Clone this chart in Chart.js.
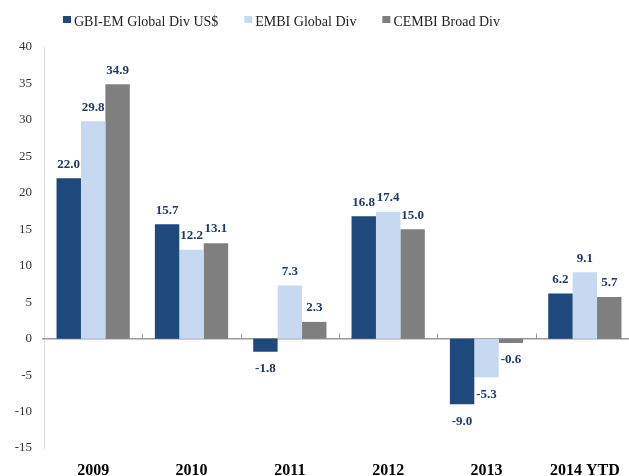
<!DOCTYPE html>
<html>
<head>
<meta charset="utf-8">
<script src="https://cdn.jsdelivr.net/npm/chart.js@4"></script>
<style>
html,body{margin:0;padding:0;background:#fff;overflow:hidden;}
#wrap{width:629px;height:476px;position:relative;overflow:hidden;}
</style>
</head>
<body>
<div id="wrap"><canvas id="c" width="640" height="476"></canvas></div>
<script>
const categories = ['2009', '2010', '2011', '2012', '2013', '2014 YTD'];
const gbiEm = [22.0, 15.7, -1.8, 16.8, -9.0, 6.2];
const embi = [29.8, 12.2, 7.3, 17.4, -5.3, 9.1];
const cembi = [34.9, 13.1, 2.3, 15.0, -0.6, 5.7];
const seriesNames = ['GBI-EM Global Div US$', 'EMBI Global Div', 'CEMBI Broad Div'];
const yMin = -15, yMax = 40, yStep = 5;

const SERIF = '"Liberation Serif", "Times New Roman", serif';
const colors = ['#1F497D', '#C6D9F1', '#7F7F7F'];

const labelPlugin = {
  id: 'valueLabels',
  afterDatasetsDraw(chart) {
    const ctx = chart.ctx;
    ctx.save();
    ctx.font = 'bold 13px ' + SERIF;
    ctx.fillStyle = '#1F3864';
    ctx.textAlign = 'center';
    ctx.textBaseline = 'middle';
    chart.data.datasets.forEach((ds, i) => {
      const meta = chart.getDatasetMeta(i);
      meta.data.forEach((el, j) => {
        const v = ds.data[j];
        const y = v >= 0 ? el.y - 14 : el.y + 17;
        ctx.fillText(v.toFixed(1), el.x, y);
      });
    });
    ctx.restore();
  }
};

const axisPlugin = {
  id: 'zeroAxis',
  beforeDatasetsDraw(chart) {
    const ctx = chart.ctx;
    const xs = chart.scales.x, ys = chart.scales.y;
    const y0 = ys.getPixelForValue(0);
    ctx.save();
    ctx.strokeStyle = '#9a9a9a';
    ctx.lineWidth = 1.5;
    ctx.beginPath();
    ctx.moveTo(chart.chartArea.left - 2, y0);
    ctx.lineTo(chart.chartArea.right, y0);
    ctx.stroke();
    ctx.lineWidth = 1;
    const n = categories.length;
    const w = (xs.getPixelForValue(1) - xs.getPixelForValue(0));
    for (let i = 1; i <= n; i++) {
      const x = Math.round(xs.getPixelForValue(i - 1) + w / 2) + 0.5;
      ctx.beginPath();
      ctx.moveTo(x, y0 - 5);
      ctx.lineTo(x, y0);
      ctx.stroke();
    }
    ctx.restore();
  }
};

const legendPlugin = {
  id: 'customLegend',
  afterDraw(chart) {
    const ctx = chart.ctx;
    ctx.save();
    ctx.font = '14px ' + SERIF;
    ctx.textBaseline = 'middle';
    ctx.textAlign = 'left';
    let x = 63;
    const yc = 21;
    chart.data.datasets.forEach((ds) => {
      ctx.fillStyle = ds.backgroundColor;
      ctx.fillRect(x, yc - 5, 8, 7);
      x += 11;
      ctx.fillStyle = '#222';
      ctx.fillText(ds.label, x, yc + 1);
      x += ctx.measureText(ds.label).width + 26;
    });
    ctx.restore();
  }
};

new Chart(document.getElementById('c'), {
  type: 'bar',
  data: {
    labels: categories,
    datasets: [
      { label: seriesNames[0], data: gbiEm, backgroundColor: colors[0] },
      { label: seriesNames[1], data: embi, backgroundColor: colors[1] },
      { label: seriesNames[2], data: cembi, backgroundColor: colors[2] }
    ]
  },
  options: {
    responsive: false,
    animation: false,
    devicePixelRatio: 1,
    layout: { padding: { top: 47, right: 6, left: 0, bottom: 0 } },
    datasets: { bar: { categoryPercentage: 0.745, barPercentage: 1.0, borderWidth: 0 } },
    plugins: { legend: { display: false }, tooltip: { enabled: false } },
    scales: {
      x: {
        grid: { display: false, drawTicks: false },
        border: { display: false },
        ticks: { color: '#000', font: { family: SERIF, size: 16, weight: 'bold' }, padding: 13, maxRotation: 0 },
        afterFit(s) { s.height = 28; }
      },
      y: {
        min: yMin, max: yMax,
        grid: { display: false, drawTicks: false },
        border: { display: true, color: '#d9d9d9', width: 1 },
        ticks: { stepSize: yStep, color: '#333', font: { family: SERIF, size: 13 }, padding: 12 },
        afterFit(s) { s.width = 44; }
      }
    }
  },
  plugins: [axisPlugin, labelPlugin, legendPlugin]
});
</script>
</body>
</html>
